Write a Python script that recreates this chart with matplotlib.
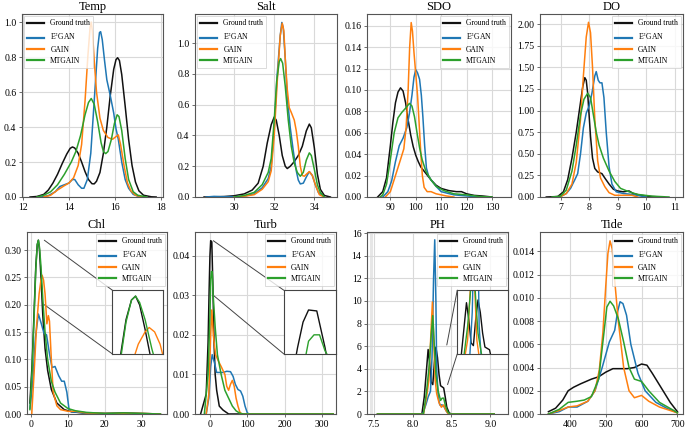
import numpy as np
import matplotlib
matplotlib.use("Agg")
from matplotlib import pyplot as plt
from matplotlib.patches import ConnectionPatch

plt.rcParams['font.family'] = ['Liberation Serif', 'DejaVu Serif']
plt.rcParams['mathtext.fontset'] = 'stix'

LABELS = ["Ground truth", "E$^2$GAN", "GAIN", "MTGAIN"]
COLORS = ["#111111", "#1f77b4", "#ff7f0e", "#2ca02c"]

# ---- Temp ----
temp_gt = [(12.3, 0), (12.6, 0.003), (12.9, 0.015), (13.1, 0.04), (13.3, 0.08), (13.5, 0.13), (13.7, 0.19),
           (13.9, 0.245), (14.05, 0.278), (14.15, 0.286), (14.25, 0.28), (14.4, 0.25), (14.55, 0.2),
           (14.7, 0.145), (14.85, 0.1), (15.0, 0.076), (15.1, 0.075), (15.2, 0.09), (15.35, 0.14),
           (15.5, 0.25), (15.65, 0.4), (15.8, 0.58), (15.95, 0.73), (16.05, 0.785), (16.12, 0.796),
           (16.2, 0.78), (16.3, 0.7), (16.45, 0.52), (16.6, 0.33), (16.75, 0.18), (16.9, 0.085),
           (17.05, 0.035), (17.25, 0.01), (17.6, 0.001), (17.8, 0)]
temp_e2 = [(12.8, 0), (13.1, 0.008), (13.4, 0.03), (13.6, 0.06), (13.8, 0.07), (14.0, 0.08), (14.15, 0.1),
           (14.25, 0.1), (14.4, 0.07), (14.55, 0.05), (14.65, 0.05), (14.8, 0.1), (14.95, 0.25),
           (15.05, 0.45), (15.15, 0.65), (15.25, 0.85), (15.33, 0.94), (15.38, 0.945), (15.45, 0.9),
           (15.55, 0.78), (15.65, 0.67), (15.8, 0.58), (15.95, 0.48), (16.05, 0.39), (16.15, 0.33),
           (16.3, 0.2), (16.45, 0.1), (16.6, 0.05), (16.8, 0.015), (17.1, 0)]
temp_gain = [(12.9, 0), (13.2, 0.01), (13.5, 0.04), (13.8, 0.065), (14.0, 0.08), (14.2, 0.11), (14.4, 0.18),
             (14.55, 0.3), (14.7, 0.55), (14.82, 0.8), (14.92, 0.97), (14.97, 1.0), (15.02, 0.95),
             (15.1, 0.78), (15.2, 0.6), (15.35, 0.45), (15.5, 0.38), (15.7, 0.34), (15.9, 0.33),
             (16.05, 0.345), (16.15, 0.355), (16.25, 0.3), (16.4, 0.18), (16.55, 0.08), (16.7, 0.035),
             (16.9, 0.01), (17.2, 0)]
temp_mt = [(12.6, 0), (12.9, 0.01), (13.2, 0.03), (13.5, 0.07), (13.8, 0.13), (14.1, 0.2), (14.3, 0.26),
           (14.5, 0.35), (14.7, 0.47), (14.85, 0.54), (14.97, 0.563), (15.1, 0.53), (15.25, 0.43),
           (15.4, 0.31), (15.5, 0.26), (15.6, 0.248), (15.7, 0.26), (15.85, 0.33), (15.98, 0.42),
           (16.1, 0.47), (16.18, 0.46), (16.3, 0.38), (16.45, 0.22), (16.6, 0.1), (16.8, 0.03),
           (17.0, 0.01), (17.4, 0)]

# ---- Salt ----
salt_gt = [(28.5, 0), (29.5, 0.003), (30.0, 0.008), (30.5, 0.02), (30.9, 0.045), (31.2, 0.09), (31.45, 0.2),
           (31.65, 0.35), (31.85, 0.47), (32.0, 0.52), (32.1, 0.5), (32.25, 0.4), (32.4, 0.27),
           (32.55, 0.2), (32.65, 0.185), (32.8, 0.2), (33.0, 0.23), (33.2, 0.27), (33.4, 0.33),
           (33.6, 0.43), (33.75, 0.474), (33.85, 0.45), (34.0, 0.32), (34.15, 0.15), (34.3, 0.05),
           (34.5, 0.01), (34.8, 0)]
salt_e2 = [(28.6, 0), (29.0, 0.004), (29.3, 0.002), (30.0, 0.002), (30.5, 0.005), (31.0, 0.02), (31.4, 0.06),
           (31.7, 0.12), (31.85, 0.2), (32.0, 0.45), (32.15, 0.8), (32.3, 1.05), (32.38, 1.135),
           (32.45, 1.1), (32.55, 0.9), (32.65, 0.65), (32.8, 0.45), (32.95, 0.3), (33.1, 0.17),
           (33.2, 0.11), (33.3, 0.085), (33.45, 0.09), (33.6, 0.13), (33.75, 0.165), (33.9, 0.14),
           (34.05, 0.08), (34.2, 0.03), (34.5, 0)]
salt_gain = [(30.0, 0), (30.5, 0.005), (31.0, 0.015), (31.4, 0.05), (31.7, 0.1), (31.85, 0.17), (32.0, 0.4),
             (32.15, 0.75), (32.3, 1.05), (32.4, 1.13), (32.48, 1.08), (32.55, 0.9), (32.65, 0.7),
             (32.75, 0.58), (32.85, 0.55), (33.0, 0.5), (33.1, 0.43), (33.2, 0.33), (33.3, 0.2),
             (33.4, 0.14), (33.5, 0.135), (33.62, 0.15), (33.75, 0.165), (33.9, 0.14), (34.05, 0.08),
             (34.25, 0.015), (34.5, 0)]
salt_mt = [(30.0, 0), (30.5, 0.01), (31.0, 0.03), (31.4, 0.08), (31.7, 0.16), (31.85, 0.25), (32.0, 0.5),
           (32.12, 0.75), (32.25, 0.88), (32.32, 0.9), (32.42, 0.87), (32.55, 0.72), (32.7, 0.5),
           (32.85, 0.33), (33.0, 0.22), (33.15, 0.16), (33.3, 0.135), (33.45, 0.16), (33.6, 0.24),
           (33.75, 0.287), (33.85, 0.27), (34.0, 0.18), (34.15, 0.08), (34.3, 0.03), (34.5, 0)]

# ---- SDO ----
sdo_gt = [(85, 0), (87, 0.005), (88.5, 0.018), (90, 0.048), (91, 0.07), (92, 0.088), (93, 0.098),
          (94, 0.102), (95, 0.099), (96, 0.088), (97, 0.072), (98, 0.058), (99, 0.047), (100, 0.039),
          (101, 0.033), (102, 0.028), (104, 0.022), (106, 0.016), (108, 0.011), (110, 0.008),
          (113, 0.006), (116, 0.005), (118, 0.005), (120, 0.003), (123, 0.0015), (126, 0.001), (130, 0)]
sdo_e2 = [(87, 0), (89, 0.005), (90.5, 0.015), (92, 0.033), (93.5, 0.048), (95, 0.055), (96.5, 0.065),
          (97.5, 0.078), (98.5, 0.095), (99.3, 0.112), (100, 0.119), (100.7, 0.116), (101.5, 0.11),
          (102.2, 0.095), (102.8, 0.075), (103.5, 0.048), (104.2, 0.027), (105, 0.02), (106, 0.016),
          (108, 0.01), (110, 0.005), (115, 0.002), (120, 0.001), (125, 0)]
sdo_gain = [(88, 0), (90, 0.005), (92, 0.02), (94, 0.035), (95.3, 0.045), (96.2, 0.065), (97, 0.1),
            (97.6, 0.14), (98.2, 0.163), (98.7, 0.155), (99.3, 0.135), (100, 0.115), (100.7, 0.095),
            (101.3, 0.07), (102, 0.04), (102.6, 0.02), (103.3, 0.009), (104.5, 0.005), (106, 0.005),
            (108, 0.003), (112, 0.001), (115, 0)]
sdo_mt = [(86, 0), (87, 0.002), (88.5, 0.012), (90, 0.035), (91.5, 0.06), (93, 0.074), (94.5, 0.079),
          (96, 0.083), (97.5, 0.0875), (98.5, 0.085), (99.5, 0.075), (100.5, 0.06), (101.5, 0.046),
          (102.5, 0.035), (104, 0.024), (106, 0.016), (108, 0.01), (111, 0.006), (115, 0.003),
          (120, 0.002), (125, 0.0005), (130, 0)]

# ---- DO ----
do_gt = [(6.5, 0), (6.9, 0.005), (7.1, 0.06), (7.25, 0.2), (7.4, 0.45), (7.55, 0.75), (7.68, 1.05),
         (7.78, 1.28), (7.85, 1.38), (7.9, 1.35), (7.95, 1.2), (8.0, 0.95), (8.05, 0.7), (8.12, 0.45),
         (8.2, 0.33), (8.3, 0.29), (8.45, 0.27), (8.55, 0.22), (8.7, 0.15), (8.85, 0.09), (9.0, 0.07),
         (9.2, 0.06), (9.4, 0.07), (9.55, 0.04), (9.8, 0.02), (10.2, 0.005), (10.6, 0)]
do_e2 = [(6.8, 0), (7.0, 0.005), (7.2, 0.04), (7.35, 0.1), (7.5, 0.2), (7.6, 0.27), (7.7, 0.5), (7.8, 0.8),
         (7.9, 0.97), (8.0, 1.05), (8.1, 1.2), (8.2, 1.4), (8.25, 1.45), (8.32, 1.35), (8.38, 1.32),
         (8.45, 1.32), (8.52, 1.15), (8.6, 0.75), (8.7, 0.35), (8.8, 0.15), (8.95, 0.06), (9.2, 0.04),
         (9.5, 0.03), (10.0, 0)]
do_gain = [(6.8, 0), (7.0, 0.005), (7.2, 0.04), (7.4, 0.15), (7.55, 0.4), (7.7, 0.9), (7.8, 1.4),
           (7.9, 1.85), (7.98, 2.02), (8.05, 1.9), (8.12, 1.5), (8.2, 0.9), (8.3, 0.42), (8.4, 0.22),
           (8.55, 0.12), (8.7, 0.05), (8.9, 0.02), (9.2, 0.02), (9.5, 0.02), (9.7, 0)]
do_mt = [(6.7, 0), (7.0, 0.01), (7.2, 0.08), (7.4, 0.3), (7.55, 0.6), (7.7, 0.95), (7.82, 1.13),
         (7.95, 1.2), (8.05, 1.15), (8.15, 0.95), (8.25, 0.75), (8.35, 0.6), (8.5, 0.45), (8.7, 0.3),
         (8.9, 0.18), (9.1, 0.1), (9.4, 0.06), (9.7, 0.03), (10.2, 0.01), (10.8, 0)]

# ---- Chl ----
chl_gt = [(-0.3, 0.02), (0.3, 0.09), (0.8, 0.18), (1.3, 0.27), (1.7, 0.31), (2.0, 0.318), (2.3, 0.3),
          (2.7, 0.25), (3.2, 0.18), (3.8, 0.12), (4.5, 0.08), (5.5, 0.045), (7, 0.02), (9, 0.008),
          (11, 0.004), (14, 0.002), (20, 0.001), (25, 0.002), (30, 0.001), (35, 0)]
chl_e2 = [(-0.3, 0.01), (0.5, 0.06), (1.2, 0.14), (2.0, 0.183), (2.8, 0.165), (3.5, 0.148), (4.2, 0.145),
          (5.0, 0.11), (5.7, 0.085), (6.5, 0.087), (7.5, 0.07), (8.3, 0.06), (9.0, 0.06), (9.7, 0.04),
          (10.3, 0.008), (11, 0.004), (15, 0.002), (20, 0.001), (30, 0.0005), (35, 0)]
chl_gain = [(0.2, 0), (0.8, 0.07), (1.5, 0.16), (2.2, 0.22), (2.7, 0.245), (3.0, 0.254), (3.4, 0.245),
            (3.8, 0.22), (4.3, 0.165), (4.7, 0.18), (5.0, 0.17), (5.5, 0.1), (6, 0.04), (7, 0.015),
            (8, 0.008), (10, 0.005), (12, 0.005), (15, 0.002), (20, 0.001), (30, 0.001), (35, 0)]
chl_mt = [(-0.3, 0.008), (0.3, 0.08), (0.8, 0.17), (1.3, 0.265), (1.7, 0.31), (2.0, 0.318), (2.3, 0.305),
          (2.7, 0.27), (3.2, 0.21), (3.8, 0.15), (4.5, 0.1), (5.5, 0.06), (6.5, 0.04), (8, 0.02),
          (10, 0.01), (12, 0.006), (15, 0.003), (20, 0.001), (25, 0.002), (30, 0.001), (35, 0)]

# ---- Turb ----
turb_gt = [(-25, 0), (-10, 0.005), (-5, 0.018), (-2, 0.032), (0, 0.04), (2, 0.0438), (5, 0.0435),
           (8, 0.032), (11, 0.018), (14, 0.01), (18, 0.006), (25, 0.002), (35, 0.001), (50, 0), (330, 0)]
turb_e2 = [(-10, 0), (-3, 0.004), (2, 0.012), (6, 0.015), (12, 0.013), (18, 0.0105), (25, 0.0105),
           (35, 0.0105), (45, 0.0108), (55, 0.0107), (62, 0.0095), (68, 0.0075), (75, 0.0062),
           (82, 0.0058), (88, 0.0045), (94, 0.002), (100, 0.0003), (105, 0), (330, 0)]
turb_gain = [(-10, 0), (-3, 0.005), (2, 0.02), (5, 0.0263), (9, 0.02), (15, 0.015), (22, 0.0135),
             (30, 0.012), (40, 0.01), (45, 0.007), (50, 0.006), (55, 0.0075), (60, 0.0085),
             (65, 0.007), (70, 0.004), (75, 0.002), (80, 0.0005), (85, 0), (330, 0)]
turb_mt = [(-15, 0), (-5, 0.01), (0, 0.025), (2, 0.034), (4, 0.036), (6, 0.036), (8, 0.031),
           (14, 0.022), (20, 0.015), (30, 0.01), (40, 0.006), (50, 0.004), (60, 0.002), (70, 0.0008),
           (80, 0.0002), (90, 0), (330, 0)]

# ---- PH ----
ph_gt = [(7.55, 0), (8.12, 0), (8.15, 1.5), (8.18, 4), (8.2, 5.7), (8.22, 4.5), (8.24, 2.8), (8.26, 2.6),
         (8.28, 4.5), (8.3, 5.9), (8.32, 5.0), (8.34, 3.5), (8.36, 2.5), (8.38, 2.4), (8.4, 2.3),
         (8.42, 1.5), (8.44, 0.6), (8.47, 0.1), (8.5, 0), (9.05, 0)]
ph_e2 = [(7.55, 0), (8.13, 0), (8.17, 0.8), (8.2, 1.5), (8.23, 2), (8.25, 5), (8.27, 12), (8.285, 15.4),
         (8.3, 10), (8.31, 4), (8.33, 1.5), (8.35, 0.8), (8.38, 0.8), (8.4, 0.7), (8.43, 0.3),
         (8.46, 0), (9.05, 0)]
ph_gain = [(7.55, 0), (8.14, 0), (8.18, 1.5), (8.21, 3), (8.235, 7), (8.255, 9.9), (8.27, 7), (8.29, 3),
           (8.31, 1.8), (8.34, 1.0), (8.37, 0.6), (8.4, 0.8), (8.43, 0.3), (8.46, 0), (9.05, 0)]
ph_mt = [(7.55, 0), (8.14, 0), (8.18, 2), (8.21, 4), (8.24, 7), (8.26, 8.7), (8.28, 6), (8.3, 3.5),
         (8.33, 2), (8.36, 1.2), (8.38, 1.4), (8.4, 1.4), (8.42, 0.8), (8.45, 0.2), (8.48, 0), (9.05, 0)]

# ---- Tide ----
tide_gt = [(340, 0.0002), (360, 0.0005), (380, 0.0012), (395, 0.002), (410, 0.0023), (430, 0.0026),
           (460, 0.003), (480, 0.0032), (500, 0.0036), (520, 0.0039), (540, 0.0039), (560, 0.0039),
           (580, 0.004), (600, 0.0043), (615, 0.0042), (630, 0.0035), (660, 0.002), (680, 0.001),
           (700, 0.0002)]
tide_e2 = [(340, 0), (370, 0.0002), (395, 0.0006), (420, 0.0006), (450, 0.0011), (470, 0.002),
           (490, 0.004), (510, 0.0062), (525, 0.0072), (533, 0.0088), (540, 0.00966), (548, 0.0095),
           (558, 0.0085), (570, 0.006), (590, 0.0035), (610, 0.002), (640, 0.001), (670, 0.0005),
           (700, 0.0001)]
tide_gain = [(340, 0), (370, 0.0003), (395, 0.0006), (420, 0.0007), (450, 0.0011), (470, 0.002),
             (482, 0.0038), (492, 0.007), (500, 0.011), (506, 0.0138), (512, 0.0149), (518, 0.0142),
             (525, 0.0115), (535, 0.008), (550, 0.004), (565, 0.002), (580, 0.0014), (600, 0.0016),
             (620, 0.0011), (650, 0.0006), (700, 0.0001)]
tide_mt = [(340, 0), (370, 0.0004), (395, 0.001), (420, 0.0011), (440, 0.0012), (460, 0.0015),
           (480, 0.003), (495, 0.007), (503, 0.0092), (512, 0.0097), (522, 0.0093), (535, 0.0082),
           (550, 0.0062), (565, 0.004), (580, 0.003), (600, 0.0028), (620, 0.002), (650, 0.001),
           (690, 0.0003), (700, 0.0001)]

W, H = 685, 429


def px_rect(left, right, top, bottom):
    return [left / W, 1 - bottom / H, (right - left) / W, (bottom - top) / H]


def style_axes(ax, title, xlim, ylim, xticks, yticks, yfmt):
    ax.set_title(title, fontsize=9, pad=3)
    ax.set_xlim(*xlim)
    ax.set_ylim(*ylim)
    ax.set_xticks(xticks)
    ax.set_yticks(yticks)
    ax.set_yticklabels([yfmt.format(v) for v in yticks])
    ax.grid(True, color="#d9d9d9", linewidth=0.8)
    ax.set_axisbelow(True)
    ax.tick_params(labelsize=7, length=2.5, width=0.6, color="#555555", pad=1.5)
    for spine in ax.spines.values():
        spine.set_color("#555555")
        spine.set_linewidth(0.8)


def draw_curves(ax, curves, lw=1.1):
    for pts, color, label in zip(curves, COLORS, LABELS):
        arr = np.array(pts)
        ax.plot(arr[:, 0], arr[:, 1], color=color, lw=lw, label=label)


def add_inset(ax, curves, rect, xlim, ylim, src_top, src_bot):
    ins = ax.inset_axes(rect)
    draw_curves(ins, curves, lw=1.0)
    ins.set_xlim(*xlim)
    ins.set_ylim(*ylim)
    ins.set_xticks([])
    ins.set_yticks([])
    for spine in ins.spines.values():
        spine.set_color("#444444")
        spine.set_linewidth(0.8)
    for src, dst in ((src_top, (0, 1)), (src_bot, (0, 0))):
        con = ConnectionPatch(xyA=src, coordsA=ax.transData, xyB=dst, coordsB=ins.transAxes,
                              color="#444444", lw=0.7)
        ax.add_artist(con)


fig = plt.figure(figsize=(6.85, 4.29), dpi=100)
fig.patch.set_facecolor("white")

panels = [
    dict(title="Temp", rect=(22, 163, 14, 197), curves=[temp_gt, temp_e2, temp_gain, temp_mt],
         xlim=(11.95, 18.1), ylim=(0, 1.046), xticks=[12, 14, 16, 18],
         yticks=np.arange(0, 1.01, 0.2), yfmt="{:.1f}", loc="upper left"),
    dict(title="Salt", rect=(195, 337, 14, 197), curves=[salt_gt, salt_e2, salt_gain, salt_mt],
         xlim=(28.05, 35.13), ylim=(0, 1.19), xticks=[30, 32, 34],
         yticks=np.arange(0, 1.01, 0.2), yfmt="{:.1f}", loc="upper left"),
    dict(title="SDO", rect=(367, 511, 14, 197), curves=[sdo_gt, sdo_e2, sdo_gain, sdo_mt],
         xlim=(80.8, 137.5), ylim=(0, 0.171), xticks=[90, 100, 110, 120, 130],
         yticks=np.arange(0, 0.161, 0.02), yfmt="{:.2f}", loc="upper right"),
    dict(title="DO", rect=(540, 683, 14, 197), curves=[do_gt, do_e2, do_gain, do_mt],
         xlim=(6.28, 11.29), ylim=(0, 2.116), xticks=[7, 8, 9, 10, 11],
         yticks=np.arange(0, 2.01, 0.25), yfmt="{:.2f}", loc="upper right"),
    dict(title="Chl", rect=(27, 167, 232, 414), curves=[chl_gt, chl_e2, chl_gain, chl_mt],
         xlim=(-1.08, 36.8), ylim=(0, 0.333), xticks=[0, 10, 20, 30],
         yticks=np.arange(0, 0.301, 0.05), yfmt="{:.2f}", loc="upper right"),
    dict(title="Turb", rect=(195, 336, 232, 414), curves=[turb_gt, turb_e2, turb_gain, turb_mt],
         xlim=(-40, 337.5), ylim=(0, 0.046), xticks=[0, 100, 200, 300],
         yticks=np.arange(0, 0.0401, 0.01), yfmt="{:.2f}", loc="upper right"),
    dict(title="PH", rect=(367, 508, 232, 414), curves=[ph_gt, ph_e2, ph_gain, ph_mt],
         xlim=(7.414, 9.227), ylim=(0, 16.09), xticks=[7.5, 8.0, 8.5, 9.0],
         yticks=np.arange(0, 16.1, 2), yfmt="{:.0f}", loc="upper right"),
    dict(title="Tide", rect=(540, 683, 232, 414), curves=[tide_gt, tide_e2, tide_gain, tide_mt],
         xlim=(316.4, 715.7), ylim=(0, 0.01566), xticks=[400, 500, 600, 700],
         yticks=np.arange(0, 0.01401, 0.002), yfmt="{:.3f}", loc="upper right"),
]

axes = {}
for p in panels:
    ax = fig.add_axes(px_rect(*p["rect"]))
    draw_curves(ax, p["curves"])
    style_axes(ax, p["title"], p["xlim"], p["ylim"], p["xticks"], p["yticks"], p["yfmt"])
    leg = ax.legend(loc=p["loc"], fontsize=5.5, frameon=True, fancybox=False, handlelength=2.2,
                    borderpad=0.4, labelspacing=0.45, handletextpad=0.8, borderaxespad=0.3)
    leg.get_frame().set_edgecolor("#cccccc")
    leg.get_frame().set_linewidth(0.6)
    for line in leg.get_lines():
        line.set_linewidth(1.6)
    axes[p["title"]] = ax

# light band at the left edge of the PH panel
axes["PH"].axvspan(7.45, 7.485, color="#e6e6e6", zorder=0, lw=0)

add_inset(axes["Chl"], [chl_gt, chl_e2, chl_gain, chl_mt], [0.61, 0.33, 0.36, 0.35],
          (0.3, 4.0), (0.2, 0.33), (3.6, 0.318), (3.6, 0.2))
add_inset(axes["Turb"], [turb_gt, turb_e2, turb_gain, turb_mt], [0.63, 0.33, 0.37, 0.35],
          (-7, 12), (0.03, 0.05), (9, 0.0438), (9, 0.03))
add_inset(axes["PH"], [ph_gt, ph_e2, ph_gain, ph_mt], [0.64, 0.33, 0.36, 0.35],
          (8.12, 8.56), (2.0, 6.6), (8.44, 6.1), (8.45, 2.6))

fig.savefig("out.png", dpi=100, facecolor="white")
